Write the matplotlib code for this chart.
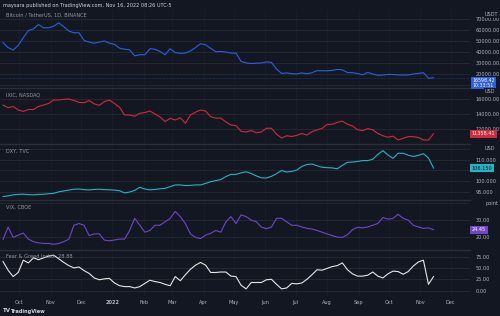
import pandas as pd
import matplotlib
matplotlib.use("Agg")
import matplotlib.pyplot as plt
import matplotlib.dates as mdates
import matplotlib.transforms as mtransforms
from matplotlib.ticker import FixedLocator, FuncFormatter

# 5-day sampled series, Sep 15 2021 -> mid Nov 2022
dates = pd.date_range("2021-09-15", periods=86, freq="5D")

btc = [48500, 44000, 41800, 46000, 53000, 59500, 61000, 65000, 62000, 62000,
       63500, 66500, 63000, 59000, 57500, 57500, 50500, 49000, 48000, 49000,
       50000, 48000, 47000, 43500, 42500, 42000, 36500, 37500, 37500, 43000,
       42500, 40500, 37500, 43000, 39500, 38800, 39000, 41000, 44000, 47500,
       46500, 43300, 40300, 40500, 40000, 39000, 39000, 31500, 30000, 29500,
       29800, 30000, 31000, 30500, 24500, 20500, 21000, 20300, 20000, 21000,
       20200, 21200, 23000, 23000, 22900, 23300, 24100, 23800, 21300, 21200,
       20500, 19200, 21500, 20000, 18800, 19100, 19600, 19500, 19100, 19100,
       19100, 20000, 20600, 21200, 16100, 16598]

ixic = [15200, 14840, 15000, 14530, 14350, 14600, 14600, 15000, 15200, 15400,
        15870, 15870, 15950, 16000, 15800, 15550, 15500, 15800, 15350, 15150,
        15650, 15850, 15400, 14900, 13870, 13870, 13700, 14100, 14200, 14400,
        14000, 13600, 12980, 13420, 13200, 13510, 12760, 13870, 14250, 14530,
        14400, 13640, 13450, 13450, 12950, 12530, 12450, 11700, 11600, 11800,
        11500, 11600, 12100, 12100, 11300, 10800, 11100, 11000, 11150, 11400,
        11200, 11640, 11870, 12090, 12620, 12620, 12890, 13050, 12650, 12400,
        11900, 11780, 12050, 11900, 11400, 11100, 10900, 11050, 10530, 10760,
        10980, 10980, 10870, 10530, 10530, 11358]

dxy = [92.9, 93.2, 93.7, 93.9, 94.0, 93.8, 93.7, 93.9, 94.0, 94.2,
       94.4, 95.1, 95.5, 95.9, 96.3, 96.4, 96.1, 96.0, 96.2, 96.3,
       96.1, 96.0, 95.9, 95.6, 94.6, 95.0, 95.8, 97.2, 96.4, 96.0,
       96.2, 96.5, 96.7, 97.5, 98.3, 98.3, 98.0, 98.1, 98.3, 98.3,
       99.0, 99.8, 100.3, 100.8, 102.2, 103.2, 103.2, 103.9, 104.4, 103.6,
       102.5, 101.6, 101.5, 102.3, 103.5, 105.0, 104.3, 104.6, 105.2, 106.9,
       107.8, 108.0, 107.2, 106.5, 106.3, 106.2, 105.8, 107.4, 108.8, 108.9,
       109.2, 109.6, 109.6, 110.2, 112.5, 114.2, 112.2, 110.6, 113.0, 113.0,
       112.1, 111.5, 112.0, 112.8, 110.8, 106.15]

vix = [18.8, 26.0, 20.0, 21.3, 22.5, 19.0, 17.5, 16.8, 16.5, 16.5,
       16.0, 16.5, 17.5, 19.0, 27.0, 28.0, 27.0, 21.0, 22.0, 22.0,
       18.4, 18.0, 18.5, 19.0, 19.0, 24.0, 31.0, 27.0, 23.0, 24.0,
       27.0, 27.0, 29.0, 31.0, 35.0, 32.0, 28.0, 22.0, 20.0, 19.3,
       21.3, 22.3, 24.0, 23.0, 29.0, 32.0, 28.0, 33.0, 32.0, 30.0,
       29.0, 26.0, 25.0, 26.0, 31.0, 31.0, 29.0, 27.0, 27.0, 26.0,
       25.2, 24.8, 24.0, 23.0, 22.0, 21.0, 20.2, 20.0, 21.5, 24.5,
       25.8, 25.5, 26.0, 27.0, 28.0, 31.5, 30.5, 31.0, 33.3, 31.0,
       30.0, 27.0, 26.0, 25.2, 25.5, 24.45]

fng = [64, 45, 31, 40, 67, 61, 72, 68, 72, 76,
       78, 70, 62, 55, 50, 52, 44, 38, 28, 24,
       26, 27, 17, 11, 9, 9, 6, 9, 16, 23,
       20, 18, 14, 11, 31, 22, 35, 47, 56, 62,
       56, 40, 40, 41, 41, 32, 31, 12, 4, 18,
       18, 18, 24, 25, 14, 4, 6, 16, 15, 17,
       25, 35, 46, 45, 49, 53, 55, 61, 46, 37,
       32, 32, 34, 41, 32, 28, 37, 43, 42, 36,
       42, 54, 63, 67, 14, 31]

BG = "#131722"
GRID = "#242833"
SEP = "#2a2e39"
TXT = "#b2b5be"
W, H = 500, 316

fig = plt.figure(figsize=(W / 100, H / 100), dpi=100, facecolor=BG)


def px_axes(top, bottom, left=0, right=470):
    return fig.add_axes([left / W, 1 - bottom / H, (right - left) / W, (bottom - top) / H])


def fig_text(x, y, s, **kw):
    kw.setdefault("fontsize", 4)
    kw.setdefault("color", TXT)
    fig.text(x / W, 1 - y / H, s, va="center", ha="left", **kw)


panels = [
    # name, data, color, top, bottom, ylim, ticks, hidden tick labels, decimals, unit, tag
    ("Bitcoin / TetherUS, 1D, BINANCE", btc, "#2b5fe0", 10, 87, (8180, 78180),
     [10000, 20000, 30000, 40000, 50000, 60000, 70000], [10000], 2, "USDT", "16598.42\n10:33:51"),
    ("IXIC, NASDAQ", ixic, "#d3293c", 88, 144, (10000, 17467),
     [12000, 14000, 16000], [], 2, "USD", "11358.41"),
    ("DXY, TVC", dxy, "#22b5c3", 144, 200, (91.3, 117.3),
     [95, 100, 105, 110, 115], [105, 115], 3, "USD", "106.150"),
    ("VIX, CBOE", vix, "#7046c8", 200, 250, (12.7, 41.6),
     [20, 30, 40], [40], 2, "point", "24.45"),
    ("Fear & Greed Index  28.88", fng, "#e6e6e6", 250, 296, (-11.6, 89.3),
     [0, 25, 50, 75], [], 2, None, None),
]

x0 = pd.Timestamp("2021-09-12")
x1 = pd.Timestamp("2022-12-20")

axes = []
for i, (name, vals, color, top, bottom, ylim, ticks, hidden, dec, unit, tag) in enumerate(panels):
    ax = px_axes(top, bottom)
    axes.append(ax)
    ax.set_facecolor(BG)
    ax.plot(dates[:len(vals)], vals, color=color, lw=0.8, zorder=3)
    ax.set_xlim(x0, x1)
    ax.set_ylim(*ylim)

    ax.yaxis.tick_right()
    ax.yaxis.set_major_locator(FixedLocator(ticks))
    ax.yaxis.set_major_formatter(FuncFormatter(
        lambda v, _, d=dec, h=hidden: "" if any(abs(v - x) < 1e-6 for x in h) else f"{v:.{d}f}"))
    ax.tick_params(axis="y", length=0, pad=4, labelsize=3.6, labelcolor=TXT)

    ax.xaxis.set_major_locator(mdates.MonthLocator())
    ax.xaxis.set_major_formatter(FuncFormatter(
        lambda v, _: "2022" if mdates.num2date(v).month == 1 else mdates.num2date(v).strftime("%b")))
    ax.tick_params(axis="x", length=0, pad=3, labelsize=3.6, labelcolor=TXT)
    if i < len(panels) - 1:
        ax.tick_params(axis="x", labelbottom=False)

    ax.grid(axis="y", color=GRID, lw=0.7)
    ax.grid(axis="x", color="#1b1f2a", lw=0.5)
    for s in ["left", "right", "bottom"]:
        ax.spines[s].set_visible(False)
    ax.spines["top"].set_color(SEP)
    ax.spines["top"].set_linewidth(1.0)
    if i == 0:
        ax.spines["top"].set_visible(False)

    fig_text(6, top + (5 if i == 0 else 7), name, fontsize=3.6, color="#9598a1")

    trans = mtransforms.blended_transform_factory(ax.transAxes, ax.transData)
    if unit:
        ax.text(1 + 15 / 470, 1 - 4 / (bottom - top), unit, transform=ax.transAxes,
                fontsize=3.6, color=TXT, va="center", ha="left",
                bbox=dict(boxstyle="square,pad=0.2", fc=BG, ec="none"), zorder=5)
    if tag:
        last = vals[-1]
        if i == 0:
            ax.axhline(last, color=color, lw=0.5, ls=(0, (1, 1)), alpha=0.5, zorder=2)
            tt = mtransforms.offset_copy(trans, fig=fig, y=-0.5, units="dots")
            ax.text(1 + 2 / 470, last, tag, transform=tt, fontsize=3.4, color="white",
                    va="top", ha="left", linespacing=1.0, clip_on=False, zorder=6,
                    bbox=dict(boxstyle="square,pad=0.2", fc=color, ec="none"))
        else:
            ax.text(1 + 2 / 470, last, tag, transform=trans, fontsize=3.6,
                    color="white" if i != 2 else "#131722", va="center", ha="left",
                    clip_on=False, zorder=6,
                    bbox=dict(boxstyle="square,pad=0.3", fc=color, ec="none"))

for lbl in axes[-1].get_xticklabels():
    if lbl.get_text() == "2022":
        lbl.set_fontweight("bold")

fig_text(3, 5, "maysara published on TradingView.com, Nov 16, 2022 08:26 UTC-5",
         fontsize=3.6, color="#d1d4dc")
fig_text(3, 311, "TV", fontsize=4, color="#d1d4dc", fontweight="bold")
fig_text(11, 311, "TradingView", fontsize=3.6, color="#d1d4dc", fontweight="bold")

fig.savefig("out.png", dpi=100, facecolor=BG)
